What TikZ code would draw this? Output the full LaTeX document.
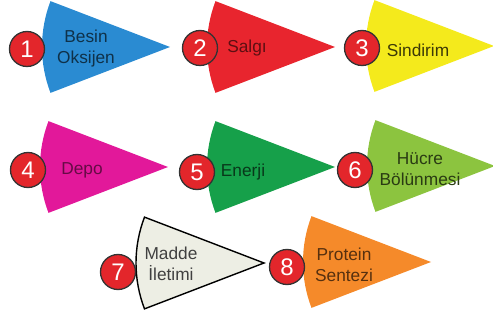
\documentclass[tikz,border=0pt]{standalone}
\usepackage{fontspec}
\setmainfont{Liberation Sans}
\definecolor{cblue}{HTML}{2A8BD2}
\definecolor{cred}{HTML}{E8252E}
\definecolor{cyellow}{HTML}{F4EA1C}
\definecolor{cmag}{HTML}{E2189A}
\definecolor{cgreen}{HTML}{16A04A}
\definecolor{clime}{HTML}{8CC43F}
\definecolor{cbeige}{HTML}{EDEEE4}
\definecolor{corange}{HTML}{F58A2A}
\definecolor{cball}{HTML}{E3262B}
\tikzset{
  ball/.style={circle, fill=cball, draw=black!80, line width=1.3pt, minimum size=35pt, inner sep=0pt,
    text=white, font=\fontsize{24}{24}\selectfont},
  lbl/.style={align=center, font=\fontsize{17.3}{21}\selectfont, inner sep=0pt},
}
\newcommand{\cone}[4]{% name, tip x, tip y, style
  \coordinate (#1) at (#2,#3);
  \path[#4] (#1) -- ++(159:128pt) arc[start angle=159, end angle=201, radius=128pt] -- cycle;
}
\begin{document}
\begin{tikzpicture}[x=1pt,y=-1pt]
\useasboundingbox (0,0) rectangle (493,323);
% cones
\cone{t1}{170}{47}{fill=cblue}
\cone{t2}{335}{47}{fill=cred}
\cone{t3}{494}{46}{fill=cyellow}
\cone{t4}{168}{167}{fill=cmag}
\cone{t5}{335}{167}{fill=cgreen}
\cone{t6}{495}{166}{fill=clime}
\cone{t7}{264}{263}{fill=cbeige, draw=black, line width=1.4pt, line join=miter}
\cone{t8}{431}{262}{fill=corange}
% labels
\node[lbl, text=cblue!35!black] (l1) at (86,49) {Besin\\Oksijen};
\node[lbl, text=cred!40!black] (l2) at (247,48) {Salgı};
\node[lbl, text=cyellow!25!black] (l3) at (418,50) {Sindirim};
\node[lbl, text=cmag!45!black] (l4) at (82,170) {Depo};
\node[lbl, text=cgreen!35!black] (l5) at (243,172) {Enerji};
\node[lbl, text=clime!30!black] (l6) at (420,169) {Hücre\\Bölünmesi};
\node[lbl, text=black!75] (l7) at (171,264) {Madde\\İletimi};
\node[lbl, text=corange!35!black] (l8) at (344,265) {Protein\\Sentezi};
% numbers
\node[ball] (n1) at (27,49) {1};
\node[ball] (n2) at (200,48) {2};
\node[ball] (n3) at (362,48) {3};
\node[ball] (n4) at (28,170) {4};
\node[ball] (n5) at (197,172) {5};
\node[ball] (n6) at (355,170) {6};
\node[ball] (n7) at (118,272) {7};
\node[ball] (n8) at (287,267) {8};
\end{tikzpicture}
\end{document}
